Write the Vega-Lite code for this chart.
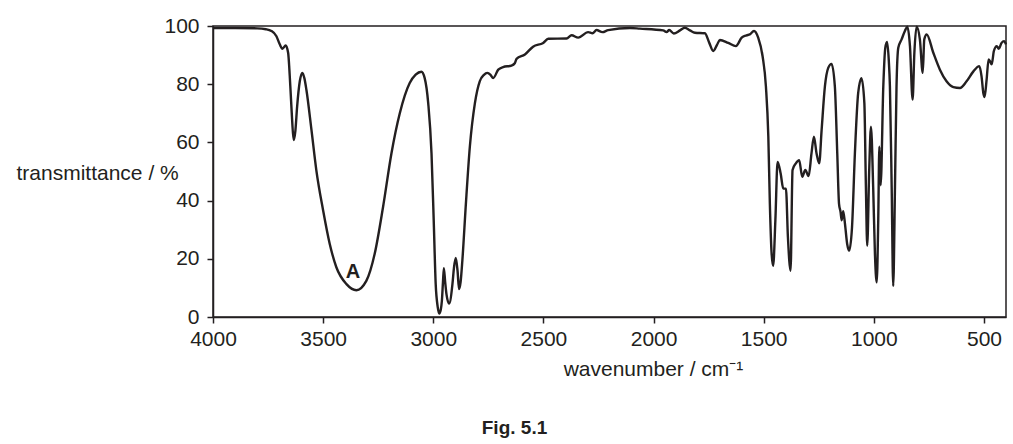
{
  "$schema": "https://vega.github.io/schema/vega-lite/v6.json",
  "description": "IR spectrum, Fig. 5.1",
  "autosize": "none",
  "padding": {"left": 213, "top": 26, "right": 7, "bottom": 127},
  "width": 793,
  "height": 291,
  "title": {
    "text": "Fig. 5.1",
    "orient": "bottom",
    "anchor": "middle",
    "frame": "group",
    "dx": -95,
    "offset": 40,
    "font": "Liberation Sans",
    "fontSize": 19,
    "fontWeight": "bold",
    "color": "#231f20"
  },
  "data": {
    "values": [
      {"w": 4000, "t": 99.3}, {"w": 3900, "t": 99.3}, {"w": 3800, "t": 99.2}, {"w": 3760, "t": 98.9},
      {"w": 3735, "t": 98.3}, {"w": 3712, "t": 96.5}, {"w": 3697, "t": 93.7}, {"w": 3685, "t": 92.2},
      {"w": 3670, "t": 93.3}, {"w": 3659, "t": 90.8}, {"w": 3649, "t": 79.3}, {"w": 3641, "t": 68},
      {"w": 3634, "t": 60.8}, {"w": 3626, "t": 64}, {"w": 3618, "t": 72.4}, {"w": 3606, "t": 81},
      {"w": 3594, "t": 83.9}, {"w": 3585, "t": 82}, {"w": 3576, "t": 78.1}, {"w": 3553, "t": 64.3},
      {"w": 3531, "t": 50.5}, {"w": 3500, "t": 36.6}, {"w": 3470, "t": 25.1}, {"w": 3440, "t": 17.1},
      {"w": 3394, "t": 11.3}, {"w": 3349, "t": 9.2}, {"w": 3304, "t": 12.4}, {"w": 3266, "t": 21.7},
      {"w": 3228, "t": 37.8}, {"w": 3190, "t": 56.2}, {"w": 3152, "t": 70.0}, {"w": 3107, "t": 80.4},
      {"w": 3080, "t": 83.3}, {"w": 3054, "t": 84.3}, {"w": 3039, "t": 82.1}, {"w": 3023, "t": 73.5},
      {"w": 3008, "t": 56.2}, {"w": 2998, "t": 33.2}, {"w": 2989, "t": 11.3}, {"w": 2980, "t": 3.5},
      {"w": 2973, "t": 1.2}, {"w": 2966, "t": 2.5}, {"w": 2961, "t": 5.5}, {"w": 2956, "t": 12},
      {"w": 2952, "t": 16.8}, {"w": 2946, "t": 12}, {"w": 2940, "t": 7.8}, {"w": 2928, "t": 4.6},
      {"w": 2913, "t": 11.3}, {"w": 2906, "t": 17}, {"w": 2898, "t": 20.3}, {"w": 2890, "t": 16},
      {"w": 2883, "t": 9.6}, {"w": 2876, "t": 12}, {"w": 2868, "t": 19.4}, {"w": 2852, "t": 38.9},
      {"w": 2834, "t": 58.5}, {"w": 2811, "t": 73.5}, {"w": 2789, "t": 81.0}, {"w": 2770, "t": 83.2},
      {"w": 2755, "t": 83.9}, {"w": 2740, "t": 83.2}, {"w": 2728, "t": 82.1}, {"w": 2705, "t": 85.0},
      {"w": 2683, "t": 85.9}, {"w": 2645, "t": 86.4}, {"w": 2630, "t": 87.2}, {"w": 2622, "t": 88.7},
      {"w": 2584, "t": 90.2}, {"w": 2547, "t": 92.9}, {"w": 2501, "t": 94.2}, {"w": 2478, "t": 95.6},
      {"w": 2395, "t": 95.7}, {"w": 2372, "t": 96.8}, {"w": 2342, "t": 96.0}, {"w": 2297, "t": 97.9},
      {"w": 2277, "t": 97.5}, {"w": 2259, "t": 98.6}, {"w": 2232, "t": 97.9}, {"w": 2206, "t": 98.6},
      {"w": 2107, "t": 99.3}, {"w": 2062, "t": 99.1}, {"w": 1956, "t": 98.5}, {"w": 1941, "t": 97.9},
      {"w": 1929, "t": 98.6}, {"w": 1908, "t": 97.4}, {"w": 1880, "t": 98.5}, {"w": 1858, "t": 99.4},
      {"w": 1835, "t": 98.5}, {"w": 1812, "t": 97.7}, {"w": 1767, "t": 97.5}, {"w": 1747, "t": 94.2},
      {"w": 1729, "t": 91.4}, {"w": 1712, "t": 93.5}, {"w": 1699, "t": 95.2}, {"w": 1661, "t": 94.2},
      {"w": 1626, "t": 93.1}, {"w": 1600, "t": 96.0}, {"w": 1578, "t": 96.8}, {"w": 1563, "t": 97.1},
      {"w": 1544, "t": 98.3}, {"w": 1525, "t": 96.0}, {"w": 1505, "t": 89.6}, {"w": 1490, "t": 79.3},
      {"w": 1479, "t": 62.0}, {"w": 1472, "t": 38.9}, {"w": 1464, "t": 21.7}, {"w": 1457, "t": 17.6},
      {"w": 1447, "t": 33.2}, {"w": 1437, "t": 53.3}, {"w": 1423, "t": 49.3}, {"w": 1411, "t": 44.1},
      {"w": 1399, "t": 44.1}, {"w": 1390, "t": 27.4}, {"w": 1378, "t": 15.9}, {"w": 1369, "t": 50.5},
      {"w": 1354, "t": 52.8}, {"w": 1339, "t": 53.9}, {"w": 1325, "t": 48.2}, {"w": 1311, "t": 50.5},
      {"w": 1296, "t": 48.4}, {"w": 1283, "t": 56.2}, {"w": 1272, "t": 62.0}, {"w": 1260, "t": 56.2},
      {"w": 1248, "t": 52.8}, {"w": 1237, "t": 64.3}, {"w": 1222, "t": 79.3}, {"w": 1207, "t": 85.6},
      {"w": 1192, "t": 87.0}, {"w": 1177, "t": 79.3}, {"w": 1166, "t": 56.2}, {"w": 1158, "t": 38.9},
      {"w": 1151, "t": 36.1}, {"w": 1146, "t": 33.2}, {"w": 1139, "t": 36.4}, {"w": 1131, "t": 32.0},
      {"w": 1121, "t": 25.1}, {"w": 1112, "t": 22.8}, {"w": 1099, "t": 30.9}, {"w": 1086, "t": 56.2},
      {"w": 1071, "t": 77.0}, {"w": 1056, "t": 82.1}, {"w": 1043, "t": 73.5}, {"w": 1036, "t": 44.7},
      {"w": 1030, "t": 24.5}, {"w": 1021, "t": 50.5}, {"w": 1013, "t": 65.4}, {"w": 1003, "t": 44.7},
      {"w": 995, "t": 21.7}, {"w": 987, "t": 11.9}, {"w": 980, "t": 33.2}, {"w": 975, "t": 58.5},
      {"w": 969, "t": 45.3}, {"w": 957, "t": 79.3}, {"w": 948, "t": 92.5}, {"w": 940, "t": 94.5},
      {"w": 932, "t": 88}, {"w": 927, "t": 79.3}, {"w": 919, "t": 44.7}, {"w": 912, "t": 10.7},
      {"w": 904, "t": 44.7}, {"w": 897, "t": 79.3}, {"w": 889, "t": 92.5}, {"w": 874, "t": 95.4},
      {"w": 859, "t": 98.3}, {"w": 848, "t": 99.8}, {"w": 836, "t": 93.1}, {"w": 824, "t": 74.7},
      {"w": 816, "t": 90.8}, {"w": 806, "t": 99.8}, {"w": 791, "t": 95.4}, {"w": 778, "t": 83.9},
      {"w": 771, "t": 95.4}, {"w": 760, "t": 97.1}, {"w": 730, "t": 90.8}, {"w": 700, "t": 85.0},
      {"w": 670, "t": 81.0}, {"w": 639, "t": 79.0}, {"w": 609, "t": 78.7}, {"w": 579, "t": 81.0},
      {"w": 548, "t": 84.4}, {"w": 521, "t": 86.2}, {"w": 511, "t": 82.7}, {"w": 503, "t": 77.0},
      {"w": 497, "t": 75.6}, {"w": 488, "t": 81.6}, {"w": 479, "t": 88.5}, {"w": 473, "t": 87.9},
      {"w": 465, "t": 86.8}, {"w": 455, "t": 91.4}, {"w": 442, "t": 93.1}, {"w": 433, "t": 92.2},
      {"w": 420, "t": 94.2}, {"w": 409, "t": 94.8}, {"w": 400, "t": 93.7}
    ]
  },
  "encoding": {
    "x": {
      "field": "w",
      "type": "quantitative",
      "scale": {"domain": [400, 4000], "reverse": true, "nice": false, "zero": false},
      "axis": {
        "values": [4000, 3500, 3000, 2500, 2000, 1500, 1000, 500],
        "format": "d",
        "labelFlush": false,
        "labelPadding": 5,
        "title": "wavenumber / cm⁻¹",
        "titleX": 440,
        "titleY": 58,
        "titleAlign": "center",
        "titleBaseline": "alphabetic"
      }
    },
    "y": {
      "field": "t",
      "type": "quantitative",
      "scale": {"domain": [0, 100], "nice": false},
      "axis": {
        "values": [0, 20, 40, 60, 80, 100],
        "format": "d",
        "labelFlush": false,
        "labelPadding": 8,
        "title": "transmittance / %",
        "titleAngle": 0,
        "titleX": -197,
        "titleY": 153,
        "titleAlign": "left",
        "titleBaseline": "alphabetic"
      }
    }
  },
  "layer": [
    {
      "mark": {"type": "line", "color": "#231f20", "strokeWidth": 2.4, "interpolate": "monotone"}
    },
    {
      "data": {"values": [{"w": 3365, "t": 15.3, "label": "A"}]},
      "mark": {"type": "text", "fontSize": 20, "fontWeight": "bold", "color": "#231f20", "font": "Liberation Sans"},
      "encoding": {"text": {"field": "label"}}
    }
  ],
  "config": {
    "font": "Liberation Sans",
    "view": {"stroke": "#231f20", "strokeWidth": 1.5},
    "axis": {
      "grid": false,
      "domainColor": "#231f20",
      "domainWidth": 1.5,
      "tickColor": "#231f20",
      "tickWidth": 1.5,
      "tickSize": 6,
      "labelFont": "Liberation Sans",
      "labelFontSize": 21,
      "labelColor": "#231f20",
      "titleFont": "Liberation Sans",
      "titleFontSize": 21,
      "titleFontWeight": "normal",
      "titleColor": "#231f20"
    }
  }
}
